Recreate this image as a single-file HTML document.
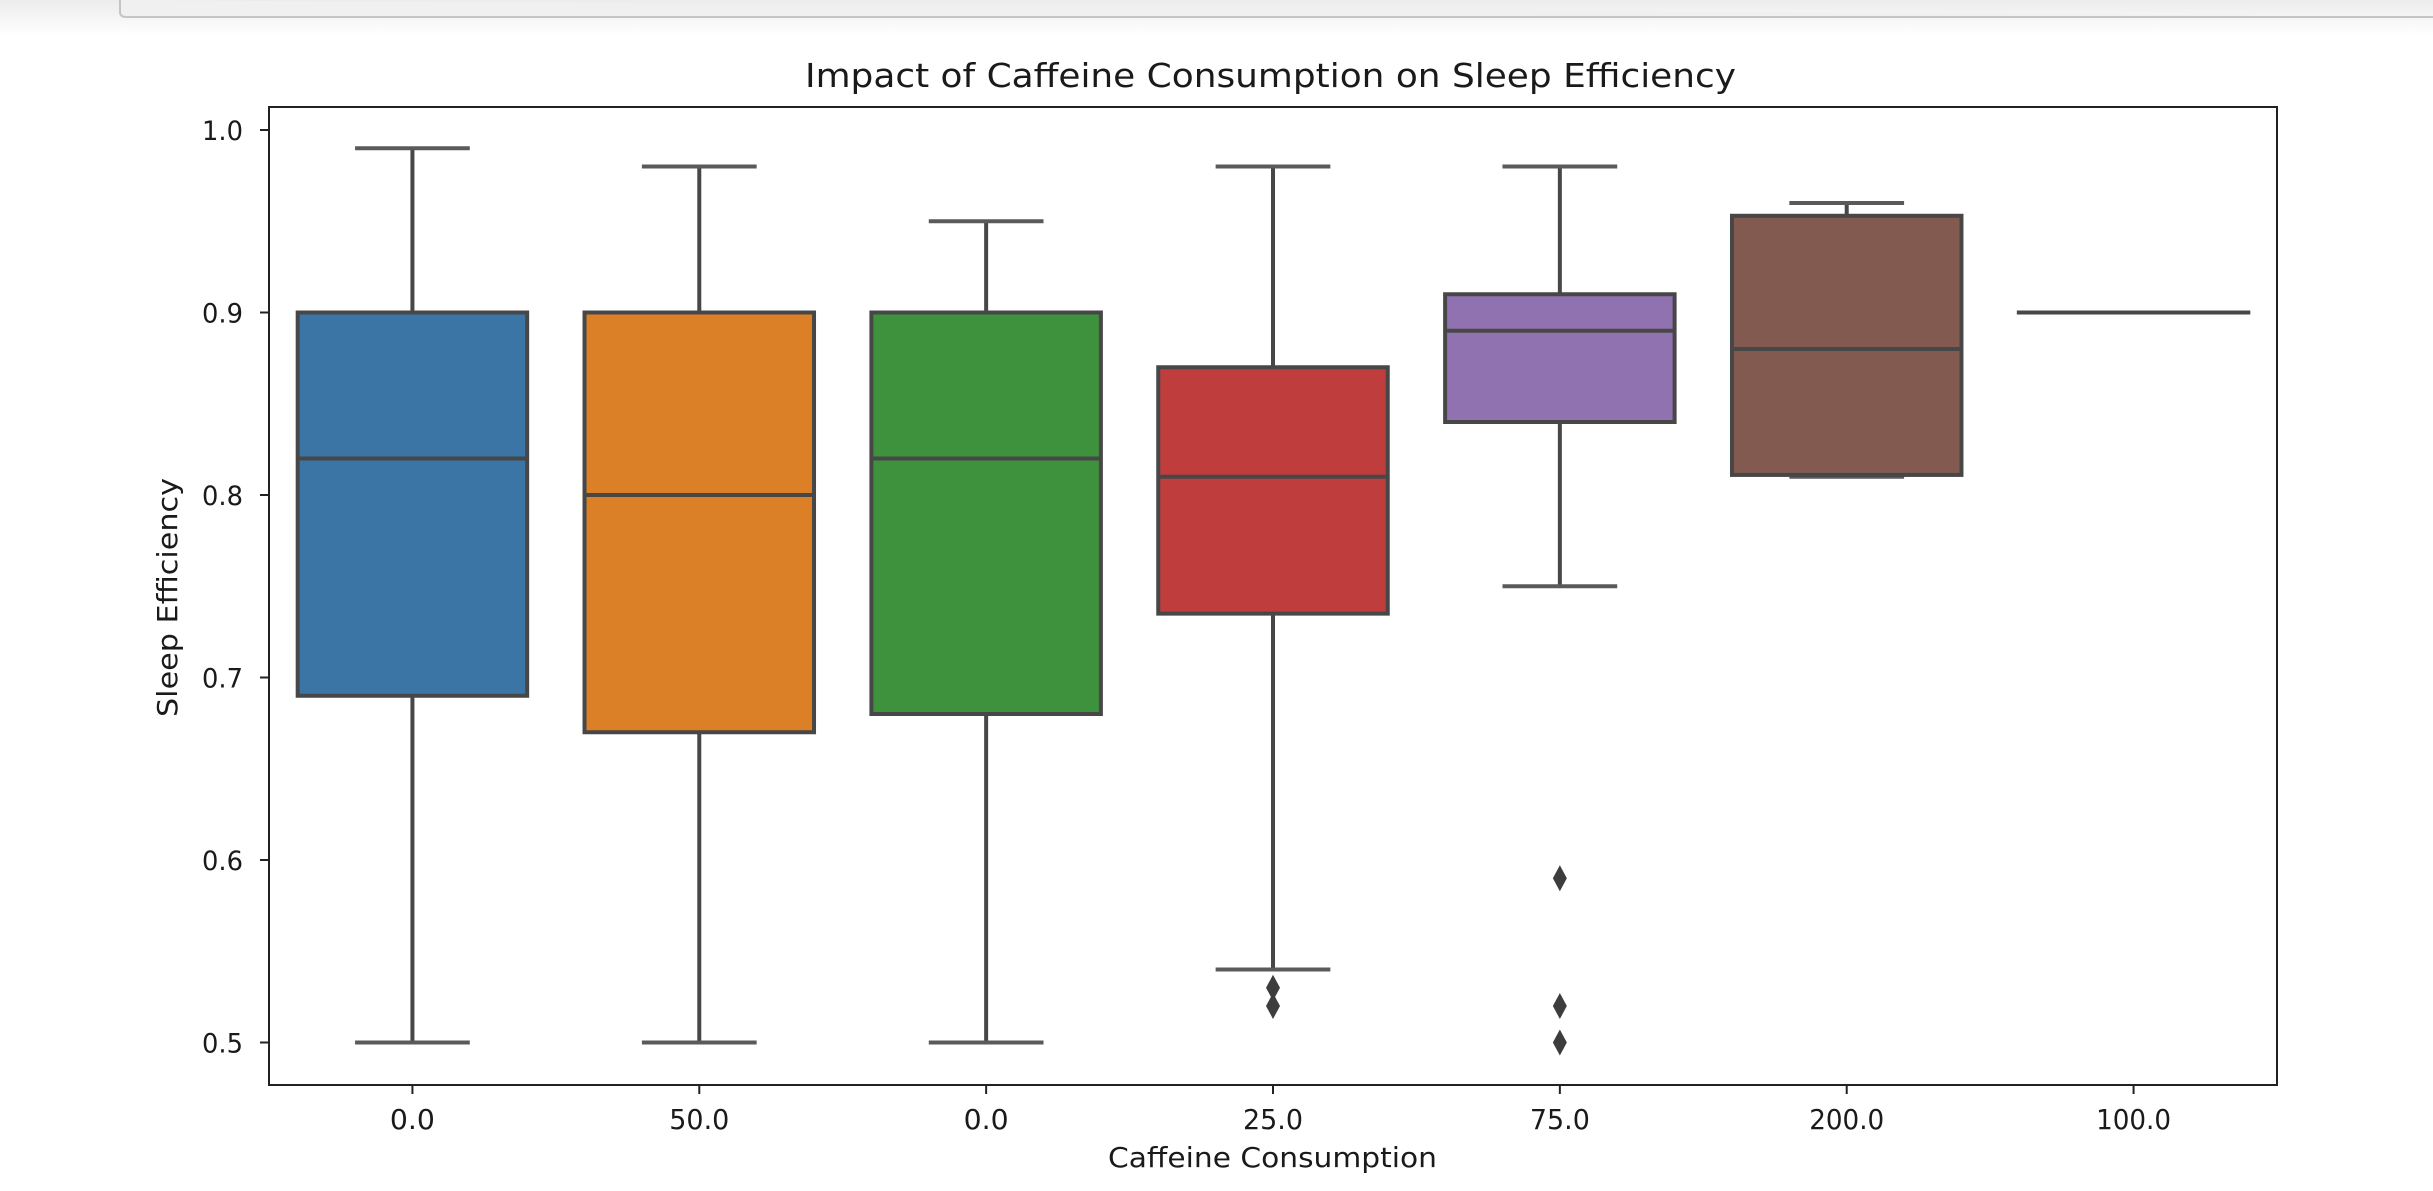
<!DOCTYPE html>
<html><head><meta charset="utf-8"><style>
html,body{margin:0;padding:0;background:#fff;width:2433px;height:1191px;overflow:hidden}
svg{display:block;font-family:"DejaVu Sans","Liberation Sans",sans-serif}
</style></head><body>
<svg id="chart" width="2433" height="1191" viewBox="0 0 2433 1191" xmlns="http://www.w3.org/2000/svg">
<defs><linearGradient id="topg" x1="0" y1="0" x2="0" y2="1"><stop offset="0" stop-color="#ececec"/><stop offset="1" stop-color="#ffffff"/></linearGradient></defs>
<rect x="0" y="0" width="2433" height="36" fill="url(#topg)"/>
<path d="M120 0 V12 Q120 17 126 17 H2433" fill="#f0f0f0" stroke="#c4c4c4" stroke-width="2"/>
<text x="805" y="87" font-size="33" textLength="931" lengthAdjust="spacingAndGlyphs" fill="#1a1a1a">Impact of Caffeine Consumption on Sleep Efficiency</text>
<g id="plot"></g>
<rect x="269" y="107" width="2008" height="978" fill="none" stroke="#222" stroke-width="2"/>
<text x="1108" y="1167" font-size="28" textLength="329" lengthAdjust="spacingAndGlyphs" fill="#1a1a1a">Caffeine Consumption</text>
<text transform="translate(177,717) rotate(-90)" x="0" y="0" font-size="28" textLength="239" lengthAdjust="spacingAndGlyphs" fill="#1a1a1a">Sleep Efficiency</text>
</svg>
<script>
const categories = ["0.0","50.0","0.0","25.0","75.0","200.0","100.0"];
const whiskerLow = [0.50,0.50,0.50,0.54,0.75,0.81,0.90];
const q1 = [0.69,0.67,0.68,0.735,0.84,0.811,0.90];
const medians = [0.82,0.80,0.82,0.81,0.89,0.88,0.90];
const q3 = [0.90,0.90,0.90,0.87,0.91,0.953,0.90];
const whiskerHigh = [0.99,0.98,0.95,0.98,0.98,0.96,0.90];
const outliers = [[],[],[],[0.53,0.52],[0.59,0.52,0.50],[],[]];
const yTicks = [0.5,0.6,0.7,0.8,0.9,1.0];
const yTickLabels = ["0.5","0.6","0.7","0.8","0.9","1.0"];
const colors = ["#3a75a5","#dc8027","#3e923d","#bf3d3d","#9072b0","#825a50","#d684bd"];

const NS="http://www.w3.org/2000/svg";
const X0=269, X1=2277, YTOP=107, YBOT=1085;
const band=(X1-X0)/categories.length;
const xPos=i=>X0+band*(i+0.5);
const yPos=v=>130+(1-v)*1825;
const g=document.getElementById('plot');
const EDGE="#474747";
function mk(tag,attrs,parent){const e=document.createElementNS(NS,tag);for(const k in attrs)e.setAttribute(k,attrs[k]);(parent||g).appendChild(e);return e;}

yTicks.forEach((v,i)=>{
  const t=mk('line',{x1:260,x2:269,y1:yPos(v),y2:yPos(v),stroke:"#222","stroke-width":2});
  
  
  const l=mk('text',{x:243,y:yPos(v)+10,"font-size":27,"text-anchor":"end",textLength:41,lengthAdjust:"spacingAndGlyphs",fill:"#1a1a1a"});
  l.textContent=yTickLabels[i];
  
  
});
categories.forEach((c,i)=>{
  const x=xPos(i);
  const t=mk('line',{x1:x,x2:x,y1:YBOT,y2:YBOT+9,stroke:"#222","stroke-width":2});
  
  
  const l=mk('text',{x:x,y:1129,"font-size":28,"text-anchor":"middle",fill:"#1a1a1a",textLength:c.length*15,lengthAdjust:"spacingAndGlyphs"});
  l.textContent=c;
  
  
  const bw=band*0.8, cw=bw/2;
  const grp=mk('g',{});
  
  
  const lw=4;
  mk('line',{x1:x,x2:x,y1:yPos(whiskerHigh[i]),y2:yPos(q3[i]),stroke:EDGE,"stroke-width":lw},grp);
  mk('line',{x1:x,x2:x,y1:yPos(q1[i]),y2:yPos(whiskerLow[i]),stroke:EDGE,"stroke-width":lw},grp);
  mk('line',{x1:x-cw/2,x2:x+cw/2,y1:yPos(whiskerHigh[i]),y2:yPos(whiskerHigh[i]),stroke:"#5a5a5a","stroke-width":lw},grp);
  mk('line',{x1:x-cw/2,x2:x+cw/2,y1:yPos(whiskerLow[i]),y2:yPos(whiskerLow[i]),stroke:"#5a5a5a","stroke-width":lw},grp);
  const top=yPos(q3[i]), bot=yPos(q1[i]);
  mk('rect',{x:x-bw/2,y:top,width:bw,height:Math.max(bot-top,0.01),fill:colors[i],stroke:EDGE,"stroke-width":lw},grp);
  mk('line',{x1:x-bw/2,x2:x+bw/2,y1:yPos(medians[i]),y2:yPos(medians[i]),stroke:EDGE,"stroke-width":lw},grp);
  outliers[i].forEach(v=>{
    const y=yPos(v);
    const d=mk('path',{d:`M${x} ${y-13} L${x+7} ${y} L${x} ${y+13} L${x-7} ${y} Z`,fill:"#3d3d3d"},grp);
    
    
  });
});
</script>
</body></html>
